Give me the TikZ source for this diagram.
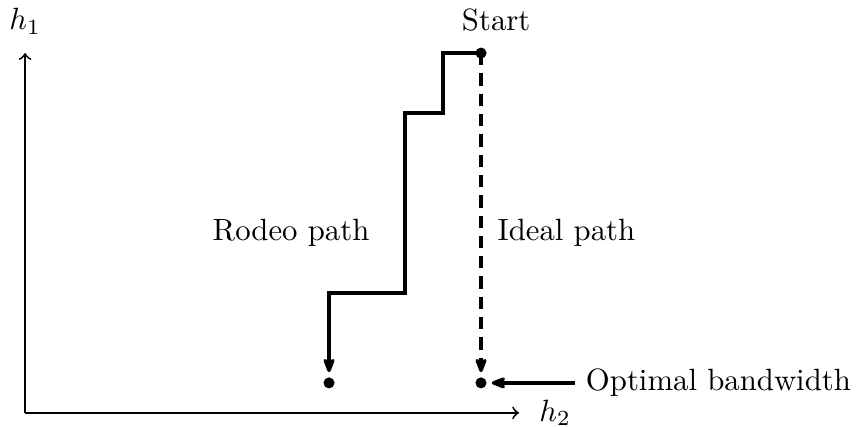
\documentclass[tikz,border=0pt]{standalone}
\usetikzlibrary{positioning, arrows.meta}
\begin{document}
\begin{tikzpicture}[x=0.434cm, y=0.3425cm, >=to]
 \tikzset{dot/.style={circle, fill, inner sep=0pt, minimum size=3.6pt},
   stairs/.style={line width=1.3pt},
   headtip/.style={-{Stealth[length=6.5pt, width=5pt, inset=2.2pt, round]}}}
 \useasboundingbox (-0.66,-0.47) rectangle (22.08,13.77);
 % axes
 \coordinate (O) at (0,0);
 \coordinate (xend) at (13,0);
 \coordinate (yend) at (0,12);
 \draw[->, semithick] (O) -- (xend) node[right=3pt] (hb) {$h_2$};
 \draw[->, semithick] (O) -- (yend) node[above=2.5pt] (ha) {$h_1$};
 % points
 \node[dot] (start) at (12,12) {};
 \node[dot] (rodeoend) at (8,1) {};
 \node[dot] (idealend) at (12,1) {};
 \node (startlabel) at (12.4,13.1) {Start};
 \node (rodeolabel) at (7,6) {Rodeo path};
 \node (ideallabel) at (14.25,6) {Ideal path};
 \node (optlabel) at (18.25,1) {Optimal bandwidth};
 % paths
 \draw[stairs, headtip, shorten >=1.5pt] (start.center) -- (11,12) -- (11,10) -- (10,10) -- (10,4) -- (8,4) -- (rodeoend);
 \draw[stairs, headtip, dash pattern=on 4pt off 2.6pt, shorten >=1.5pt] (start.center) -- (idealend);
 \draw[stairs, headtip, shorten >=1.5pt] (optlabel.west) -- (idealend);
\end{tikzpicture}
\end{document}
